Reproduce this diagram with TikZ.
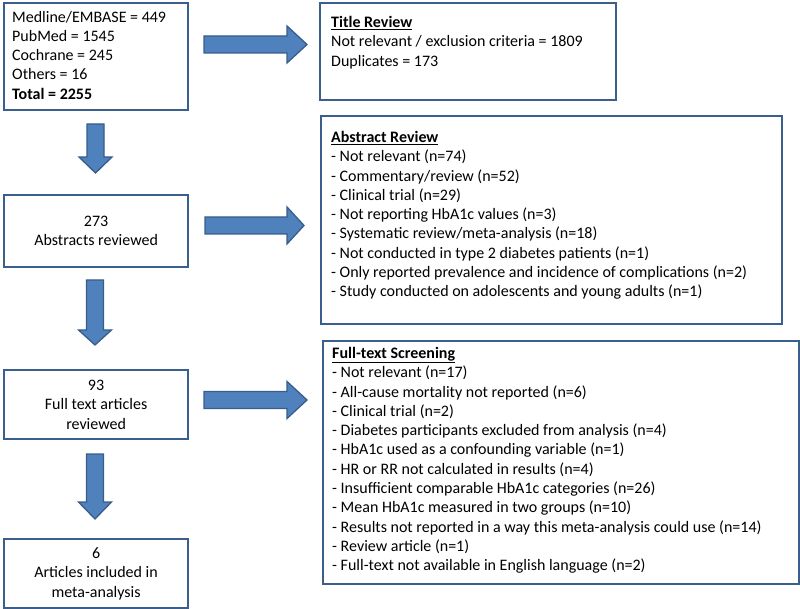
\documentclass[tikz,border=0pt]{standalone}
\usepackage{fontspec}
\setmainfont{Carlito}
\definecolor{bord}{HTML}{3A5F8B}
\definecolor{afill}{HTML}{4F81BD}
\definecolor{aline}{HTML}{385D8A}
\newcommand\RArr[4]{\draw[barrow] (#1,#3-8.5) -- (#4,#3-8.5) -- (#4,#3-18.5) -- (#2,#3) -- (#4,#3+18.5) -- (#4,#3+8.5) -- (#1,#3+8.5) -- cycle;}
\newcommand\DArr[4]{\draw[barrow] (#1-8.5,#2) -- (#1+8.5,#2) -- (#1+8.5,#4) -- (#1+16.5,#4) -- (#1,#3) -- (#1-16.5,#4) -- (#1-8.5,#4) -- cycle;}
\begin{document}
\begin{tikzpicture}[x=1pt,y=-1pt,
  box/.style={draw=bord, line width=2.2pt, fill=white, anchor=north west, inner sep=0},
  txt/.style={anchor=north west, inner sep=0, align=left, font=\fontsize{16}{19.3}\selectfont},
  ctxt/.style={inner sep=0, align=center, font=\fontsize{16}{19.3}\selectfont},
  barrow/.style={fill=afill, draw=aline, line width=1.3pt, line join=miter}]
\useasboundingbox (0,0) rectangle (800,609);
% left column boxes
\node[box, minimum width=184, minimum height=107] (src) at (3,2) {};
\node[txt] (srct) at (12,10.7) {Medline/EMBASE = 449\\PubMed = 1545\\Cochrane = 245\\Others = 16\\\textbf{Total = 2255}};
\node[box, minimum width=184, minimum height=72] (abs) at (3,194) {};
\node[ctxt] (abst) at (abs.center) {273\\Abstracts reviewed};
\node[box, minimum width=184, minimum height=69] (ft) at (3,369) {};
\node[ctxt] (ftt) at (ft.center) {93\\Full text articles\\reviewed};
\node[box, minimum width=184, minimum height=69] (inc) at (3,538) {};
\node[ctxt] (inct) at (inc.center) {6\\Articles included in\\meta-analysis};
% right column boxes
\node[box, minimum width=296, minimum height=97] (tr) at (319,2) {};
\node[txt] (trt) at (331,16) {\textbf{\underline{Title Review}}\\Not relevant / exclusion criteria = 1809\\Duplicates = 173};
\node[box, minimum width=461, minimum height=208] (ar) at (320,115) {};
\node[txt] (art) at (331,131) {\textbf{\underline{Abstract Review}}\\
- Not relevant (n=74)\\
- Commentary/review (n=52)\\
- Clinical trial (n=29)\\
- Not reporting HbA1c values (n=3)\\
- Systematic review/meta-analysis (n=18)\\
- Not conducted in type 2 diabetes patients (n=1)\\
- Only reported prevalence and incidence of complications (n=2)\\
- Study conducted on adolescents and young adults (n=1)};
\node[box, minimum width=476, minimum height=243] (fs) at (322,340) {};
\node[txt] (fst) at (332,347) {\textbf{\underline{Full-text Screening}}\\
- Not relevant (n=17)\\
- All-cause mortality not reported (n=6)\\
- Clinical trial (n=2)\\
- Diabetes participants excluded from analysis (n=4)\\
- HbA1c used as a confounding variable (n=1)\\
- HR or RR not calculated in results (n=4)\\
- Insufficient comparable HbA1c categories (n=26)\\
- Mean HbA1c measured in two groups (n=10)\\
- Results not reported in a way this meta-analysis could use (n=14)\\
- Review article (n=1)\\
- Full-text not available in English language (n=2)};
% block arrows
\RArr{204}{307}{44.5}{287}
\RArr{205}{304}{225.5}{287}
\RArr{204}{307}{400}{287}
\DArr{95.5}{124}{173}{157}
\DArr{95}{280}{345}{330}
\DArr{95}{454}{519}{502}
\end{tikzpicture}
\end{document}
